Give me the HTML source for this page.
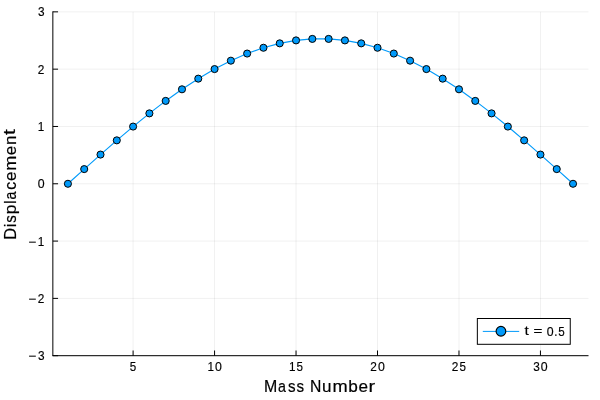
<!DOCTYPE html>
<html><head><meta charset="utf-8"><title>plot</title>
<style>html,body{margin:0;padding:0;background:#fff;overflow:hidden;}svg{display:block;will-change:transform;}text{font-family:"Liberation Sans",sans-serif;fill:#000;stroke:#000;vector-effect:non-scaling-stroke;stroke-linejoin:round;}</style></head><body>
<svg width="600" height="400" viewBox="0 0 600 400">
<rect x="0" y="0" width="600" height="400" fill="#ffffff"/>
<g stroke="#000" stroke-opacity="0.1" stroke-width="0.6" fill="none"><line x1="133.10" y1="11.85" x2="133.10" y2="355.7"/><line x1="214.57" y1="11.85" x2="214.57" y2="355.7"/><line x1="296.04" y1="11.85" x2="296.04" y2="355.7"/><line x1="377.51" y1="11.85" x2="377.51" y2="355.7"/><line x1="458.98" y1="11.85" x2="458.98" y2="355.7"/><line x1="540.45" y1="11.85" x2="540.45" y2="355.7"/><line x1="52.85" y1="355.70" x2="588.5" y2="355.70"/><line x1="52.85" y1="298.39" x2="588.5" y2="298.39"/><line x1="52.85" y1="241.08" x2="588.5" y2="241.08"/><line x1="52.85" y1="183.78" x2="588.5" y2="183.78"/><line x1="52.85" y1="126.47" x2="588.5" y2="126.47"/><line x1="52.85" y1="69.16" x2="588.5" y2="69.16"/><line x1="52.85" y1="11.85" x2="588.5" y2="11.85"/></g>
<g stroke="#000" stroke-width="1" fill="none"><line x1="52.35" y1="355.7" x2="588.5" y2="355.7"/><line x1="52.85" y1="11.35" x2="52.85" y2="355.7"/><line x1="133.10" y1="355.7" x2="133.10" y2="350.5"/><line x1="214.57" y1="355.7" x2="214.57" y2="350.5"/><line x1="296.04" y1="355.7" x2="296.04" y2="350.5"/><line x1="377.51" y1="355.7" x2="377.51" y2="350.5"/><line x1="458.98" y1="355.7" x2="458.98" y2="350.5"/><line x1="540.45" y1="355.7" x2="540.45" y2="350.5"/><line x1="52.85" y1="355.70" x2="58.050000000000004" y2="355.70"/><line x1="52.85" y1="298.39" x2="58.050000000000004" y2="298.39"/><line x1="52.85" y1="241.08" x2="58.050000000000004" y2="241.08"/><line x1="52.85" y1="183.78" x2="58.050000000000004" y2="183.78"/><line x1="52.85" y1="126.47" x2="58.050000000000004" y2="126.47"/><line x1="52.85" y1="69.16" x2="58.050000000000004" y2="69.16"/><line x1="52.85" y1="11.85" x2="58.050000000000004" y2="11.85"/></g>
<polyline fill="none" stroke="#009AFA" stroke-width="1.15" points="67.92,183.78 84.21,169.10 100.51,154.58 116.80,140.35 133.10,126.57 149.39,113.38 165.68,100.91 181.98,89.30 198.27,78.65 214.57,69.08 230.86,60.68 247.15,53.55 263.45,47.76 279.74,43.36 296.04,40.40 312.33,38.91 328.62,38.91 344.92,40.40 361.21,43.36 377.51,47.76 393.80,53.55 410.09,60.68 426.39,69.08 442.68,78.65 458.98,89.30 475.27,100.91 491.56,113.38 507.86,126.57 524.15,140.35 540.45,154.58 556.74,169.10 573.03,183.78"/>
<g fill="#009AFA" stroke="#000" stroke-width="1.0"><circle cx="67.92" cy="183.78" r="3.55"/><circle cx="84.21" cy="169.10" r="3.55"/><circle cx="100.51" cy="154.58" r="3.55"/><circle cx="116.80" cy="140.35" r="3.55"/><circle cx="133.10" cy="126.57" r="3.55"/><circle cx="149.39" cy="113.38" r="3.55"/><circle cx="165.68" cy="100.91" r="3.55"/><circle cx="181.98" cy="89.30" r="3.55"/><circle cx="198.27" cy="78.65" r="3.55"/><circle cx="214.57" cy="69.08" r="3.55"/><circle cx="230.86" cy="60.68" r="3.55"/><circle cx="247.15" cy="53.55" r="3.55"/><circle cx="263.45" cy="47.76" r="3.55"/><circle cx="279.74" cy="43.36" r="3.55"/><circle cx="296.04" cy="40.40" r="3.55"/><circle cx="312.33" cy="38.91" r="3.55"/><circle cx="328.62" cy="38.91" r="3.55"/><circle cx="344.92" cy="40.40" r="3.55"/><circle cx="361.21" cy="43.36" r="3.55"/><circle cx="377.51" cy="47.76" r="3.55"/><circle cx="393.80" cy="53.55" r="3.55"/><circle cx="410.09" cy="60.68" r="3.55"/><circle cx="426.39" cy="69.08" r="3.55"/><circle cx="442.68" cy="78.65" r="3.55"/><circle cx="458.98" cy="89.30" r="3.55"/><circle cx="475.27" cy="100.91" r="3.55"/><circle cx="491.56" cy="113.38" r="3.55"/><circle cx="507.86" cy="126.57" r="3.55"/><circle cx="524.15" cy="140.35" r="3.55"/><circle cx="540.45" cy="154.58" r="3.55"/><circle cx="556.74" cy="169.10" r="3.55"/><circle cx="573.03" cy="183.78" r="3.55"/></g>
<text transform="matrix(0.11622 0 0 0.12566 129.814 371.472)" font-size="100" stroke-width="0.15">5</text>
<text transform="matrix(0.11734 0 0 0.12497 207.431 371.425)" font-size="100" stroke-width="0.15">1</text><text transform="matrix(0.12336 0 0 0.12607 214.950 371.472)" font-size="100" stroke-width="0.15">0</text>
<text transform="matrix(0.11734 0 0 0.12497 288.901 371.425)" font-size="100" stroke-width="0.15">1</text><text transform="matrix(0.11622 0 0 0.12566 296.571 371.472)" font-size="100" stroke-width="0.15">5</text>
<text transform="matrix(0.11864 0 0 0.12540 370.228 371.425)" font-size="100" stroke-width="0.15">2</text><text transform="matrix(0.12336 0 0 0.12607 377.890 371.472)" font-size="100" stroke-width="0.15">0</text>
<text transform="matrix(0.11864 0 0 0.12540 451.698 371.425)" font-size="100" stroke-width="0.15">2</text><text transform="matrix(0.11622 0 0 0.12566 459.511 371.472)" font-size="100" stroke-width="0.15">5</text>
<text transform="matrix(0.11832 0 0 0.12607 533.350 371.472)" font-size="100" stroke-width="0.15">3</text><text transform="matrix(0.12336 0 0 0.12607 540.830 371.472)" font-size="100" stroke-width="0.15">0</text>
<text transform="matrix(0.13506 0 0 0.11868 28.791 360.485)" font-size="100" stroke-width="0.15">−</text><text transform="matrix(0.11832 0 0 0.12607 37.904 360.272)" font-size="100" stroke-width="0.15">3</text>
<text transform="matrix(0.13506 0 0 0.11868 28.791 303.176)" font-size="100" stroke-width="0.15">−</text><text transform="matrix(0.11864 0 0 0.12540 37.722 302.917)" font-size="100" stroke-width="0.15">2</text>
<text transform="matrix(0.13506 0 0 0.11868 28.791 245.868)" font-size="100" stroke-width="0.15">−</text><text transform="matrix(0.11734 0 0 0.12497 37.865 245.608)" font-size="100" stroke-width="0.15">1</text>
<text transform="matrix(0.12336 0 0 0.12607 37.749 188.347)" font-size="100" stroke-width="0.15">0</text>
<text transform="matrix(0.11734 0 0 0.12497 37.865 130.992)" font-size="100" stroke-width="0.15">1</text>
<text transform="matrix(0.11864 0 0 0.12540 37.722 73.683)" font-size="100" stroke-width="0.15">2</text>
<text transform="matrix(0.11832 0 0 0.12607 37.904 16.422)" font-size="100" stroke-width="0.15">3</text>
<text transform="matrix(0.15904 0 0 0.16928 263.890 391.600)" font-size="100" stroke-width="0.2">M</text><text transform="matrix(0.14223 0 0 0.16667 277.992 391.667)" font-size="100" stroke-width="0.2">a</text><text transform="matrix(0.15118 0 0 0.16712 288.038 391.667)" font-size="100" stroke-width="0.2">s</text><text transform="matrix(0.15118 0 0 0.16712 296.504 391.667)" font-size="100" stroke-width="0.2">s</text><text transform="matrix(0.15693 0 0 0.16928 309.984 391.600)" font-size="100" stroke-width="0.2">N</text><text transform="matrix(0.17049 0 0 0.16970 322.105 391.664)" font-size="100" stroke-width="0.2">u</text><text transform="matrix(0.18229 0 0 0.16542 332.396 391.600)" font-size="100" stroke-width="0.2">m</text><text transform="matrix(0.17234 0 0 0.16853 348.325 391.666)" font-size="100" stroke-width="0.2">b</text><text transform="matrix(0.17126 0 0 0.16667 358.444 391.667)" font-size="100" stroke-width="0.2">e</text><text transform="matrix(0.20020 0 0 0.16542 368.419 391.600)" font-size="100" stroke-width="0.2">r</text>
<g transform="translate(15.7,240.2) rotate(-90)"><text transform="matrix(0.16423 0 0 0.16875 0.343 -0.100)" font-size="100" stroke-width="0.2">D</text><text transform="matrix(0.14284 0 0 0.16710 13.145 -0.100)" font-size="100" stroke-width="0.2">i</text><text transform="matrix(0.15070 0 0 0.16659 17.534 -0.033)" font-size="100" stroke-width="0.2">s</text><text transform="matrix(0.17180 0 0 0.16431 25.879 -0.140)" font-size="100" stroke-width="0.2">p</text><text transform="matrix(0.14284 0 0 0.16710 36.363 -0.100)" font-size="100" stroke-width="0.2">l</text><text transform="matrix(0.14178 0 0 0.16615 40.670 -0.033)" font-size="100" stroke-width="0.2">a</text><text transform="matrix(0.15791 0 0 0.16615 50.450 -0.033)" font-size="100" stroke-width="0.2">c</text><text transform="matrix(0.17072 0 0 0.16615 59.302 -0.033)" font-size="100" stroke-width="0.2">e</text><text transform="matrix(0.18172 0 0 0.16490 69.365 -0.100)" font-size="100" stroke-width="0.2">m</text><text transform="matrix(0.17072 0 0 0.16615 85.050 -0.033)" font-size="100" stroke-width="0.2">e</text><text transform="matrix(0.16995 0 0 0.16490 95.191 -0.100)" font-size="100" stroke-width="0.2">n</text><text transform="matrix(0.20868 0 0 0.17079 105.234 -0.233)" font-size="100" stroke-width="0.2">t</text></g>
<rect x="477.35" y="318.5" width="92.9" height="25.8" fill="#fff" stroke="#000" stroke-width="1"/>
<line x1="482.8" y1="331.4" x2="519.2" y2="331.4" stroke="#009AFA" stroke-width="1"/>
<circle cx="500.95" cy="331.25" r="4.85" fill="#009AFA" stroke="#000" stroke-width="1.15"/>
<text transform="matrix(0.15451 0 0 0.12648 524.563 335.426)" font-size="100" stroke-width="0.15">t</text><text transform="matrix(0.15153 0 0 0.10044 533.398 335.150)" font-size="100" stroke-width="0.15">=</text><text transform="matrix(0.12336 0 0 0.12607 546.837 335.572)" font-size="100" stroke-width="0.15">0</text><text transform="matrix(0.11409 0 0 0.12515 554.290 335.525)" font-size="100" stroke-width="0.15">.</text><text transform="matrix(0.11622 0 0 0.12566 558.266 335.572)" font-size="100" stroke-width="0.15">5</text>
</svg></body></html>
